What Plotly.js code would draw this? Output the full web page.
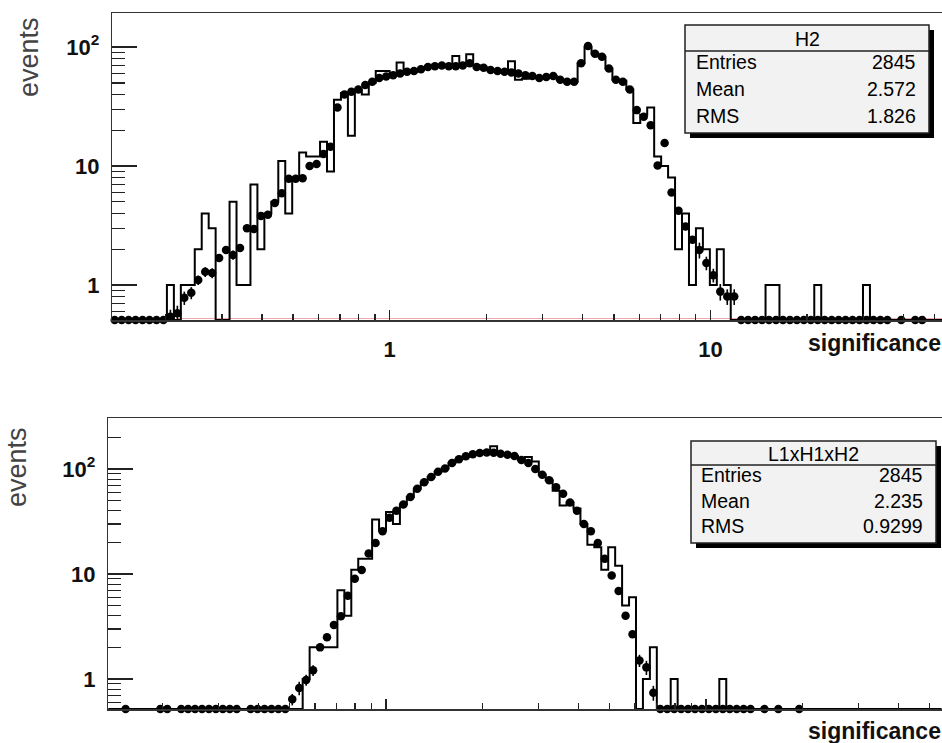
<!DOCTYPE html>
<html>
<head>
<meta charset="utf-8">
<script src="https://cdn.plot.ly/plotly-3.0.1.min.js"></script>
<style>
  html, body { margin: 0; padding: 0; background: #fff; overflow: hidden; }
  #chart { width: 942px; height: 743px; }
</style>
</head>
<body>
<div id="chart"></div>
<script>
// ---------------- data ----------------
// log-uniform binning: first edge log10 = -0.868, bin width 0.0217 decades, 120 bins
const binLog0 = -0.868;
const binLogWidth = 0.0217;
const nBins = 120;

// top panel "H2": points (0 = empty bin drawn on the axis, null = not drawn)
const h2Points = [
  0,0,0,0,0,0,0,0, 0.54,0.58,
  0.78,0.86,1.1,1.29,1.26,1.69,1.97,1.79,2.05,3.0,
  2.95,3.8,3.9,4.9,5.9,7.8,7.8,7.9,10,10.4,
  12.6,14.5,31,40,42,44,48,51,55,56.5,
  58,60,62,63,65,68,69,70,69,69,
  70,73,68,67,64,63,62,61,60,58,
  57,55,56,57,53,51,51,73,102,88,
  83,66,53,51,44,29.5,26,22,10.1,15.6,
  6.0,4.2,3.1,2.4,1.97,1.53,1.21,0.88,0.80,0.80,
  0,0,0,0,0,0,0,0,0,0,
  0,0,0,0,0,0,0,0,0,0,
  0,0,null,0,null,0,0,null,null,null
];
// visible error bars of the top points (0 = hidden behind the marker)
const h2Errors = [
  0,0,0,0,0,0,0,0,0.08,0.09,
  0.1,0.1,0.1,0.12,0.12,0.12,0.14,0.16,0.14,0,
  0,0,0,0,0,0,0,0,0,0,
  0,0,0,0,0,0,0,0,0,0,
  0,0,0,0,0,0,0,0,0,0,
  0,0,0,0,0,0,0,0,0,0,
  0,0,0,0,0,0,0,0,0,0,
  0,0,0,0,0,0,0,0,0,0,
  0,0,0,0,0.3,0.2,0.16,0.14,0.12,0.12,
  0,0,0,0,0,0,0,0,0,0,
  0,0,0,0,0,0,0,0,0,0,
  0,0,0,0,0,0,0,0,0,0
];
// top panel "H2": step histogram
const h2Hist = [
  0,0,0,0,0,0,0,0,1,0,
  1,1,2,4,3,0,0,5,1,1,
  7,2,4,5,11,4,8,13,12,12,
  16,9,36,41,18,44,40,50,63,63,
  58,74,62,63,65,68,69,70,70,84,
  70,87,70,67,64,63,62,76,53,54,
  57,55,56,57,53,51,51,73,100,88,
  83,66,53,52,44,23,27,31,12,10,
  8,2,4,1,3,2,1,2,1,0,
  0,0,0,0,1,1,0,0,0,0,
  0,1,0,0,0,0,0,0,1,0,
  0,0,0,0,0,0,0,0,0,0
];

// bottom panel "L1xH1xH2": points
const l1Points = [
  null,null,0,null,null,null,null,0,0,null,
  0,0,0,0,0,0,0,0,0,null,
  0,0,0,0,0,0,0.64,0.82,0.98,1.21,
  2.0,2.5,3.26,3.96,6.2,9.0,10.9,15.7,19.7,25.6,
  34.4,40,46,54,65,75,84,94,101,114,
  124,132,138,142,144,143,140,137,133,122,
  114,100,88,78,67,58,48,40,30,25.6,
  19.7,14,9.7,6.9,4.0,2.67,1.5,1.29,0.74,0,
  0,0,0,0,0,0,0,0,0,0,
  0,0,0,null,0,null,0,null,null,0,
  null,null,null,null,null,null,null,null,null,null,
  null,null,null,null,null,null,null,null,null,null
];
const l1Errors = [
  0,0,0,0,0,0,0,0,0,0,
  0,0,0,0,0,0,0,0,0,0,
  0,0,0,0,0,0,0.08,0.12,0.12,0.14,
  0,0,0,0,0,0,0,0,0,0,
  0,0,0,0,0,0,0,0,0,0,
  0,0,0,0,0,0,0,0,0,0,
  0,0,0,0,0,0,0,0,0,0,
  0,0,0,0,0,0,0.2,0.2,0.12,0,
  0,0,0,0,0,0,0,0,0,0,
  0,0,0,0,0,0,0,0,0,0,
  0,0,0,0,0,0,0,0,0,0,
  0,0,0,0,0,0,0,0,0,0
];
// bottom panel "L1xH1xH2": step histogram
const l1Hist = [
  0,0,0,0,0,0,0,0,0,0,
  0,0,0,0,0,0,0,0,0,0,
  0,0,0,0,0,0,0,0,1,2,
  2,2,2,7,4,11,14,14,33,26,
  39,30,46,54,65,75,84,94,101,114,
  124,132,138,142,144,165,140,137,133,122,
  130,118,88,78,62,45,48,42,30,19,
  18,11,18,12,5,6,0,1,2,0,
  0,1,0,0,0,0,0,0,1,0,
  0,0,0,0,0,0,0,0,0,0,
  0,0,0,0,0,0,0,0,0,0,
  0,0,0,0,0,0,0,0,0,0
];

// stat boxes
const statTop = {name: "H2", labels: ["Entries", "Mean", "RMS"], values: ["2845", "2.572", "1.826"]};
const statBot = {name: "L1xH1xH2", labels: ["Entries", "Mean", "RMS"], values: ["2845", "2.235", "0.9299"]};

const yTickVals = [1, 10, 100];
const yTickText = ["1", "10", "10<sup>2</sup>"];
const xTickVals = [1, 10];
const xTickText = ["1", "10"];

// ---------------- layout geometry (pixels of the 942x743 page) ----------------
const W = 942, H = 743;
const px = v => v / W;
const py = v => 1 - v / H;

const topYRange = [-0.294, 2.286];
const botYRange = [-0.286, 2.486];
const topXRange = [-0.8656, 1.7219];
const botXRange = [-0.8688, 1.7375];

const edges = [];
for (let k = 0; k <= nBins; k++) edges.push(Math.pow(10, binLog0 + k * binLogWidth));
const centers = [];
for (let k = 0; k < nBins; k++) centers.push(Math.pow(10, binLog0 + (k + 0.5) * binLogWidth));

function floorVals(arr, range) {
  const fl = Math.pow(10, range[0]);
  return arr.map(v => (v === null ? null : (v <= fl ? fl : v)));
}
function stepTrace(hist, range, xa, ya) {
  const fl = Math.pow(10, range[0]);
  const ys = hist.map(v => (v <= fl ? fl : v));
  ys.push(ys[ys.length - 1]);
  return {x: edges, y: ys, xaxis: xa, yaxis: ya, type: 'scatter', mode: 'lines',
          line: {shape: 'hv', color: '#000', width: 2}, hoverinfo: 'skip', showlegend: false};
}
function pointTrace(pts, errs, range, xa, ya) {
  return {x: centers, y: floorVals(pts, range), xaxis: xa, yaxis: ya, type: 'scatter', mode: 'markers',
          marker: {symbol: 'circle', size: 8.5, color: '#000'}, cliponaxis: false,
          error_y: {type: 'data', array: errs, visible: true, width: 0, thickness: 1.6, color: '#000'},
          hoverinfo: 'skip', showlegend: false};
}

const traces = [
  stepTrace(h2Hist, topYRange, 'x', 'y'),
  pointTrace(h2Points, h2Errors, topYRange, 'x', 'y'),
  stepTrace(l1Hist, botYRange, 'x2', 'y2'),
  pointTrace(l1Points, l1Errors, botYRange, 'x2', 'y2')
];

const minorY = [];
[0.1, 1, 10, 100].forEach(d => { for (let m = 2; m <= 9; m++) minorY.push(m * d); });
const minorX = [];
[0.1, 1, 10].forEach(d => { for (let m = 2; m <= 9; m++) minorX.push(m * d); });

const FONT = "'Liberation Sans', Arial, Helvetica, sans-serif";
// transparent spacer that pushes the y tick labels away from the axis
const LABEL_PAD = "<span style='font-size:12px;color:rgba(0,0,0,0)'>0</span>";

function xAxis(domainLeft, range, labels, anchor) {
  return {
    type: 'log', domain: [px(domainLeft), 1], range: range, anchor: anchor,
    showline: true, linecolor: '#333', linewidth: 1.5, mirror: true,
    showgrid: false, zeroline: false,
    tickmode: 'array', tickvals: xTickVals, ticktext: xTickText, showticklabels: labels,
    ticks: 'inside', ticklen: 10, tickwidth: 1.3, tickcolor: '#222',
    tickfont: {family: FONT, size: 22, color: '#111', weight: 'bold'}, ticklabelstandoff: 9,
    minor: {tickmode: 'array', tickvals: minorX, ticks: 'inside', ticklen: 6, tickwidth: 1.3, tickcolor: '#222', showgrid: false}
  };
}
function yAxis(domBottom, domTop, range, anchor) {
  return {
    type: 'log', domain: [py(domBottom), py(domTop)], range: range, anchor: anchor,
    showline: true, linecolor: '#333', linewidth: 1.5, mirror: false,
    showgrid: false, zeroline: false,
    tickmode: 'array', tickvals: yTickVals, ticktext: yTickText.map(t => t + LABEL_PAD),
    ticks: 'inside', ticklen: 25, tickwidth: 1.3, tickcolor: '#222',
    tickfont: {family: FONT, size: 22, color: '#111', weight: 'bold'},
    minor: {tickmode: 'array', tickvals: minorY, ticks: 'inside', ticklen: 13, tickwidth: 1.3, tickcolor: '#222', showgrid: false}
  };
}

function statBox(s, x0, y0, x1, y1, yHead, rowsY, xLab, xVal) {
  const shapes = [
    {type: 'rect', xref: 'paper', yref: 'paper', x0: px(x0 + 5), x1: px(x1 + 5), y0: py(y1 + 5), y1: py(y0 + 5),
     fillcolor: '#000', line: {width: 0}, layer: 'above'},
    {type: 'rect', xref: 'paper', yref: 'paper', x0: px(x0), x1: px(x1), y0: py(y1), y1: py(y0),
     fillcolor: '#f2f2f2', line: {color: '#222', width: 1.5}, layer: 'above'},
    {type: 'line', xref: 'paper', yref: 'paper', x0: px(x0), x1: px(x1), y0: py(yHead), y1: py(yHead),
     line: {color: '#222', width: 1.5}, layer: 'above'}
  ];
  const f = {family: FONT, size: 19.5, color: '#000'};
  const ann = [{text: s.name, xref: 'paper', yref: 'paper', x: px((x0 + x1) / 2), y: py((y0 + yHead) / 2 + 1),
                xanchor: 'center', yanchor: 'middle', showarrow: false, font: f}];
  s.labels.forEach((l, i) => {
    ann.push({text: l, xref: 'paper', yref: 'paper', x: px(xLab), y: py(rowsY[i]), xanchor: 'left', yanchor: 'middle', showarrow: false, font: f});
    ann.push({text: s.values[i], xref: 'paper', yref: 'paper', x: px(xVal), y: py(rowsY[i]), xanchor: 'right', yanchor: 'middle', showarrow: false, font: f});
  });
  return {shapes, ann};
}

const sbTop = statBox(statTop, 685, 25, 929, 133, 51, [62, 89, 116], 694, 918);
const sbBot = statBox(statBot, 691, 441, 936, 543, 465, [475, 501, 526], 699, 925);

const titleFont = {family: FONT, size: 27, color: '#444'};
const sigFont = {family: FONT, size: 23, color: '#111', weight: 'bold'};

const annotations = [
  {text: 'events', xref: 'paper', yref: 'paper', x: px(29), y: py(57), textangle: -90, xanchor: 'center', yanchor: 'middle', showarrow: false, font: titleFont},
  {text: 'events', xref: 'paper', yref: 'paper', x: px(17), y: py(467), textangle: -90, xanchor: 'center', yanchor: 'middle', showarrow: false, font: titleFont},
  {text: 'significance', xref: 'paper', yref: 'paper', x: px(943), y: py(343), xanchor: 'right', yanchor: 'middle', showarrow: false, font: sigFont},
  {text: 'significance', xref: 'paper', yref: 'paper', x: px(943), y: py(731), xanchor: 'right', yanchor: 'middle', showarrow: false, font: sigFont}
].concat(sbTop.ann, sbBot.ann);

const shapes = [
  {type: 'line', xref: 'paper', yref: 'paper', x0: px(178), x1: 1, y0: py(318.5), y1: py(318.5),
   line: {color: '#e9a9a9', width: 1}, layer: 'below'}
].concat(sbTop.shapes, sbBot.shapes);

const layout = {
  width: W, height: H,
  margin: {l: 0, r: 0, t: 0, b: 0, pad: 0},
  paper_bgcolor: '#fff', plot_bgcolor: '#fff',
  showlegend: false,
  xaxis: xAxis(112, topXRange, true, 'y'),
  yaxis: yAxis(320, 13, topYRange, 'x'),
  xaxis2: xAxis(108, botXRange, false, 'y2'),
  yaxis2: yAxis(709, 418, botYRange, 'x2'),
  annotations: annotations,
  shapes: shapes
};

Plotly.newPlot('chart', traces, layout, {staticPlot: true, displayModeBar: false});
</script>
</body>
</html>
